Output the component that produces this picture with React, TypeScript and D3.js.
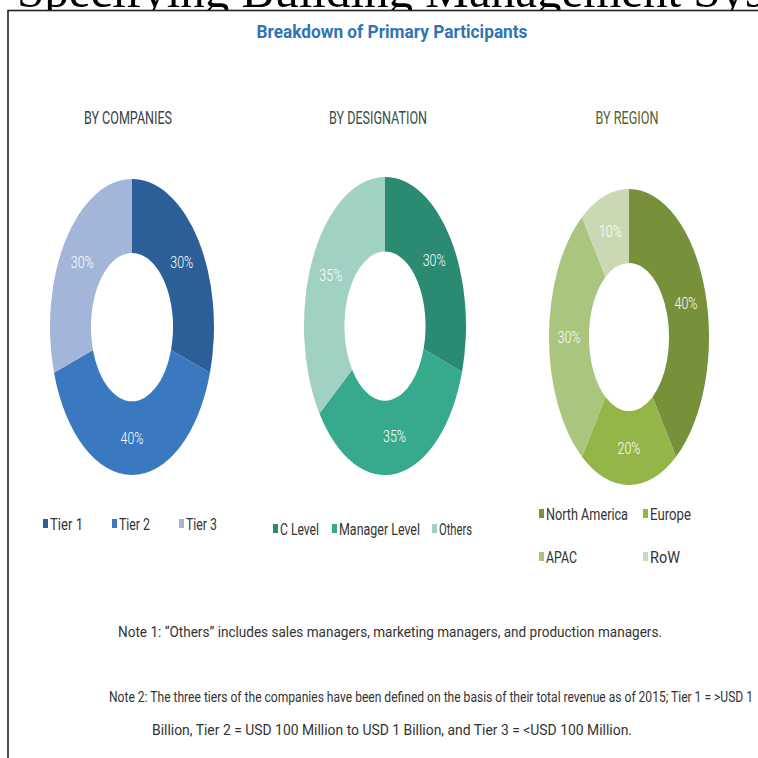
import * as d3 from "d3";

const companyLabels = ["Tier 1", "Tier 2", "Tier 3"];
const companyValues = [30, 40, 30];
const designationLabels = ["C Level", "Manager Level", "Others"];
const designationValues = [30, 35, 35];
const regionLabels = ["North America", "Europe", "APAC", "RoW"];
const regionValues = [40, 20, 30, 10];

const companyColors = ["#2c5f97", "#3a79c0", "#a3b6d9"];
const designationColors = ["#2a8a72", "#37aa8e", "#a0d1c3"];
const regionColors = ["#77913a", "#94b548", "#a9c57e", "#cad9b3"];

const NARROW = "'Liberation Sans Narrow', 'Roboto', 'DejaVu Sans', sans-serif";

const panels = [
  {
    title: "BY COMPANIES",
    titleX: 128,
    titleW: 88,
    titleColor: "#3a3f47",
    labels: companyLabels,
    values: companyValues,
    colors: companyColors,
    cx: 132,
    cy: 327,
    rx: 82,
    ry: 148,
    legend: [
      { x: 43, y: 530, w: 33 },
      { x: 112, y: 530, w: 31 },
      { x: 179, y: 530, w: 31 },
    ],
  },
  {
    title: "BY DESIGNATION",
    titleX: 378,
    titleW: 98,
    titleColor: "#34504a",
    labels: designationLabels,
    values: designationValues,
    colors: designationColors,
    cx: 385,
    cy: 326,
    rx: 81,
    ry: 149,
    legend: [
      { x: 273, y: 535, w: 39 },
      { x: 332, y: 535, w: 81 },
      { x: 432, y: 535, w: 33 },
    ],
  },
  {
    title: "BY REGION",
    titleX: 627,
    titleW: 63,
    titleColor: "#545f33",
    labels: regionLabels,
    values: regionValues,
    colors: regionColors,
    cx: 629,
    cy: 337,
    rx: 80,
    ry: 148,
    legend: [
      { x: 539, y: 520, w: 82 },
      { x: 643, y: 520, w: 41 },
      { x: 539, y: 563, w: 31 },
      { x: 643, y: 563, w: 30 },
    ],
  },
];

function Donut({ p }) {
  const pie = d3
    .pie<number>()
    .sort(null)
    .value((d) => d);
  const arcs = pie(p.values);
  // unit-circle arc, stretched into the tall ellipse of the source
  const arc = d3.arc().innerRadius(0.5).outerRadius(1);
  return (
    <g>
      <g transform={`translate(${p.cx},${p.cy}) scale(${p.rx},${p.ry})`}>
        {arcs.map((a, i) => (
          <path key={i} d={arc(a as any) as string} fill={p.colors[i]} />
        ))}
      </g>
      {arcs.map((a, i) => {
        const [ux, uy] = arc.centroid(a as any);
        return (
          <text
            key={"l" + i}
            x={p.cx + ux * p.rx}
            y={p.cy + uy * p.ry + 6}
            textAnchor="middle"
            fill="#ffffff"
            fontFamily={NARROW}
            fontWeight={300}
            fontSize={17}
            textLength={23}
            lengthAdjust="spacingAndGlyphs"
          >
            {a.data}%
          </text>
        );
      })}
      <text
        x={p.titleX}
        y={124}
        textAnchor="middle"
        fill={p.titleColor}
        fontFamily={NARROW}
        fontSize={19}
        textLength={p.titleW}
        lengthAdjust="spacingAndGlyphs"
      >
        {p.title}
      </text>
      {p.labels.map((lab, i) => {
        const it = p.legend[i];
        return (
          <g key={"k" + i}>
            <rect x={it.x} y={it.y - 11} width={5} height={9} fill={p.colors[i]} />
            <text
              x={it.x + 7}
              y={it.y}
              fill="#333"
              fontFamily={NARROW}
              fontSize={17}
              textLength={it.w}
              lengthAdjust="spacingAndGlyphs"
            >
              {lab}
            </text>
          </g>
        );
      })}
    </g>
  );
}

export default function App() {
  return (
    <svg
      width={758}
      height={758}
      style={{ position: "absolute", left: 0, top: 0, background: "#fff" }}
    >
      <text
        x={17}
        y={7}
        fontFamily="'Liberation Serif', 'Times New Roman', serif"
        fontSize={49}
        fill="#000"
      >
        Specifying Building Management Systems
      </text>
      <rect x={8} y={10.5} width={760} height={760} fill="#fff" stroke="#222" strokeWidth={1.6} />
      <text
        x={392}
        y={38}
        textAnchor="middle"
        fill="#2f74b5"
        fontFamily={NARROW}
        fontWeight={700}
        fontSize={19}
        textLength={271}
        lengthAdjust="spacingAndGlyphs"
      >
        Breakdown of Primary Participants
      </text>
      {panels.map((p, i) => (
        <Donut key={i} p={p} />
      ))}
      <g fill="#333" fontFamily={NARROW} fontSize={15}>
        <text x={390} y={637} textAnchor="middle" textLength={544} lengthAdjust="spacingAndGlyphs">
          Note 1: “Others” includes sales managers, marketing managers, and production managers.
        </text>
        <text x={431} y={702} textAnchor="middle" textLength={644} lengthAdjust="spacingAndGlyphs">
          Note 2: The three tiers of the companies have been defined on the basis of their total revenue as of 2015; Tier 1 = &gt;USD 1
        </text>
        <text x={392} y={735} textAnchor="middle" textLength={480} lengthAdjust="spacingAndGlyphs">
          Billion, Tier 2 = USD 100 Million to USD 1 Billion, and Tier 3 = &lt;USD 100 Million.
        </text>
      </g>
    </svg>
  );
}
